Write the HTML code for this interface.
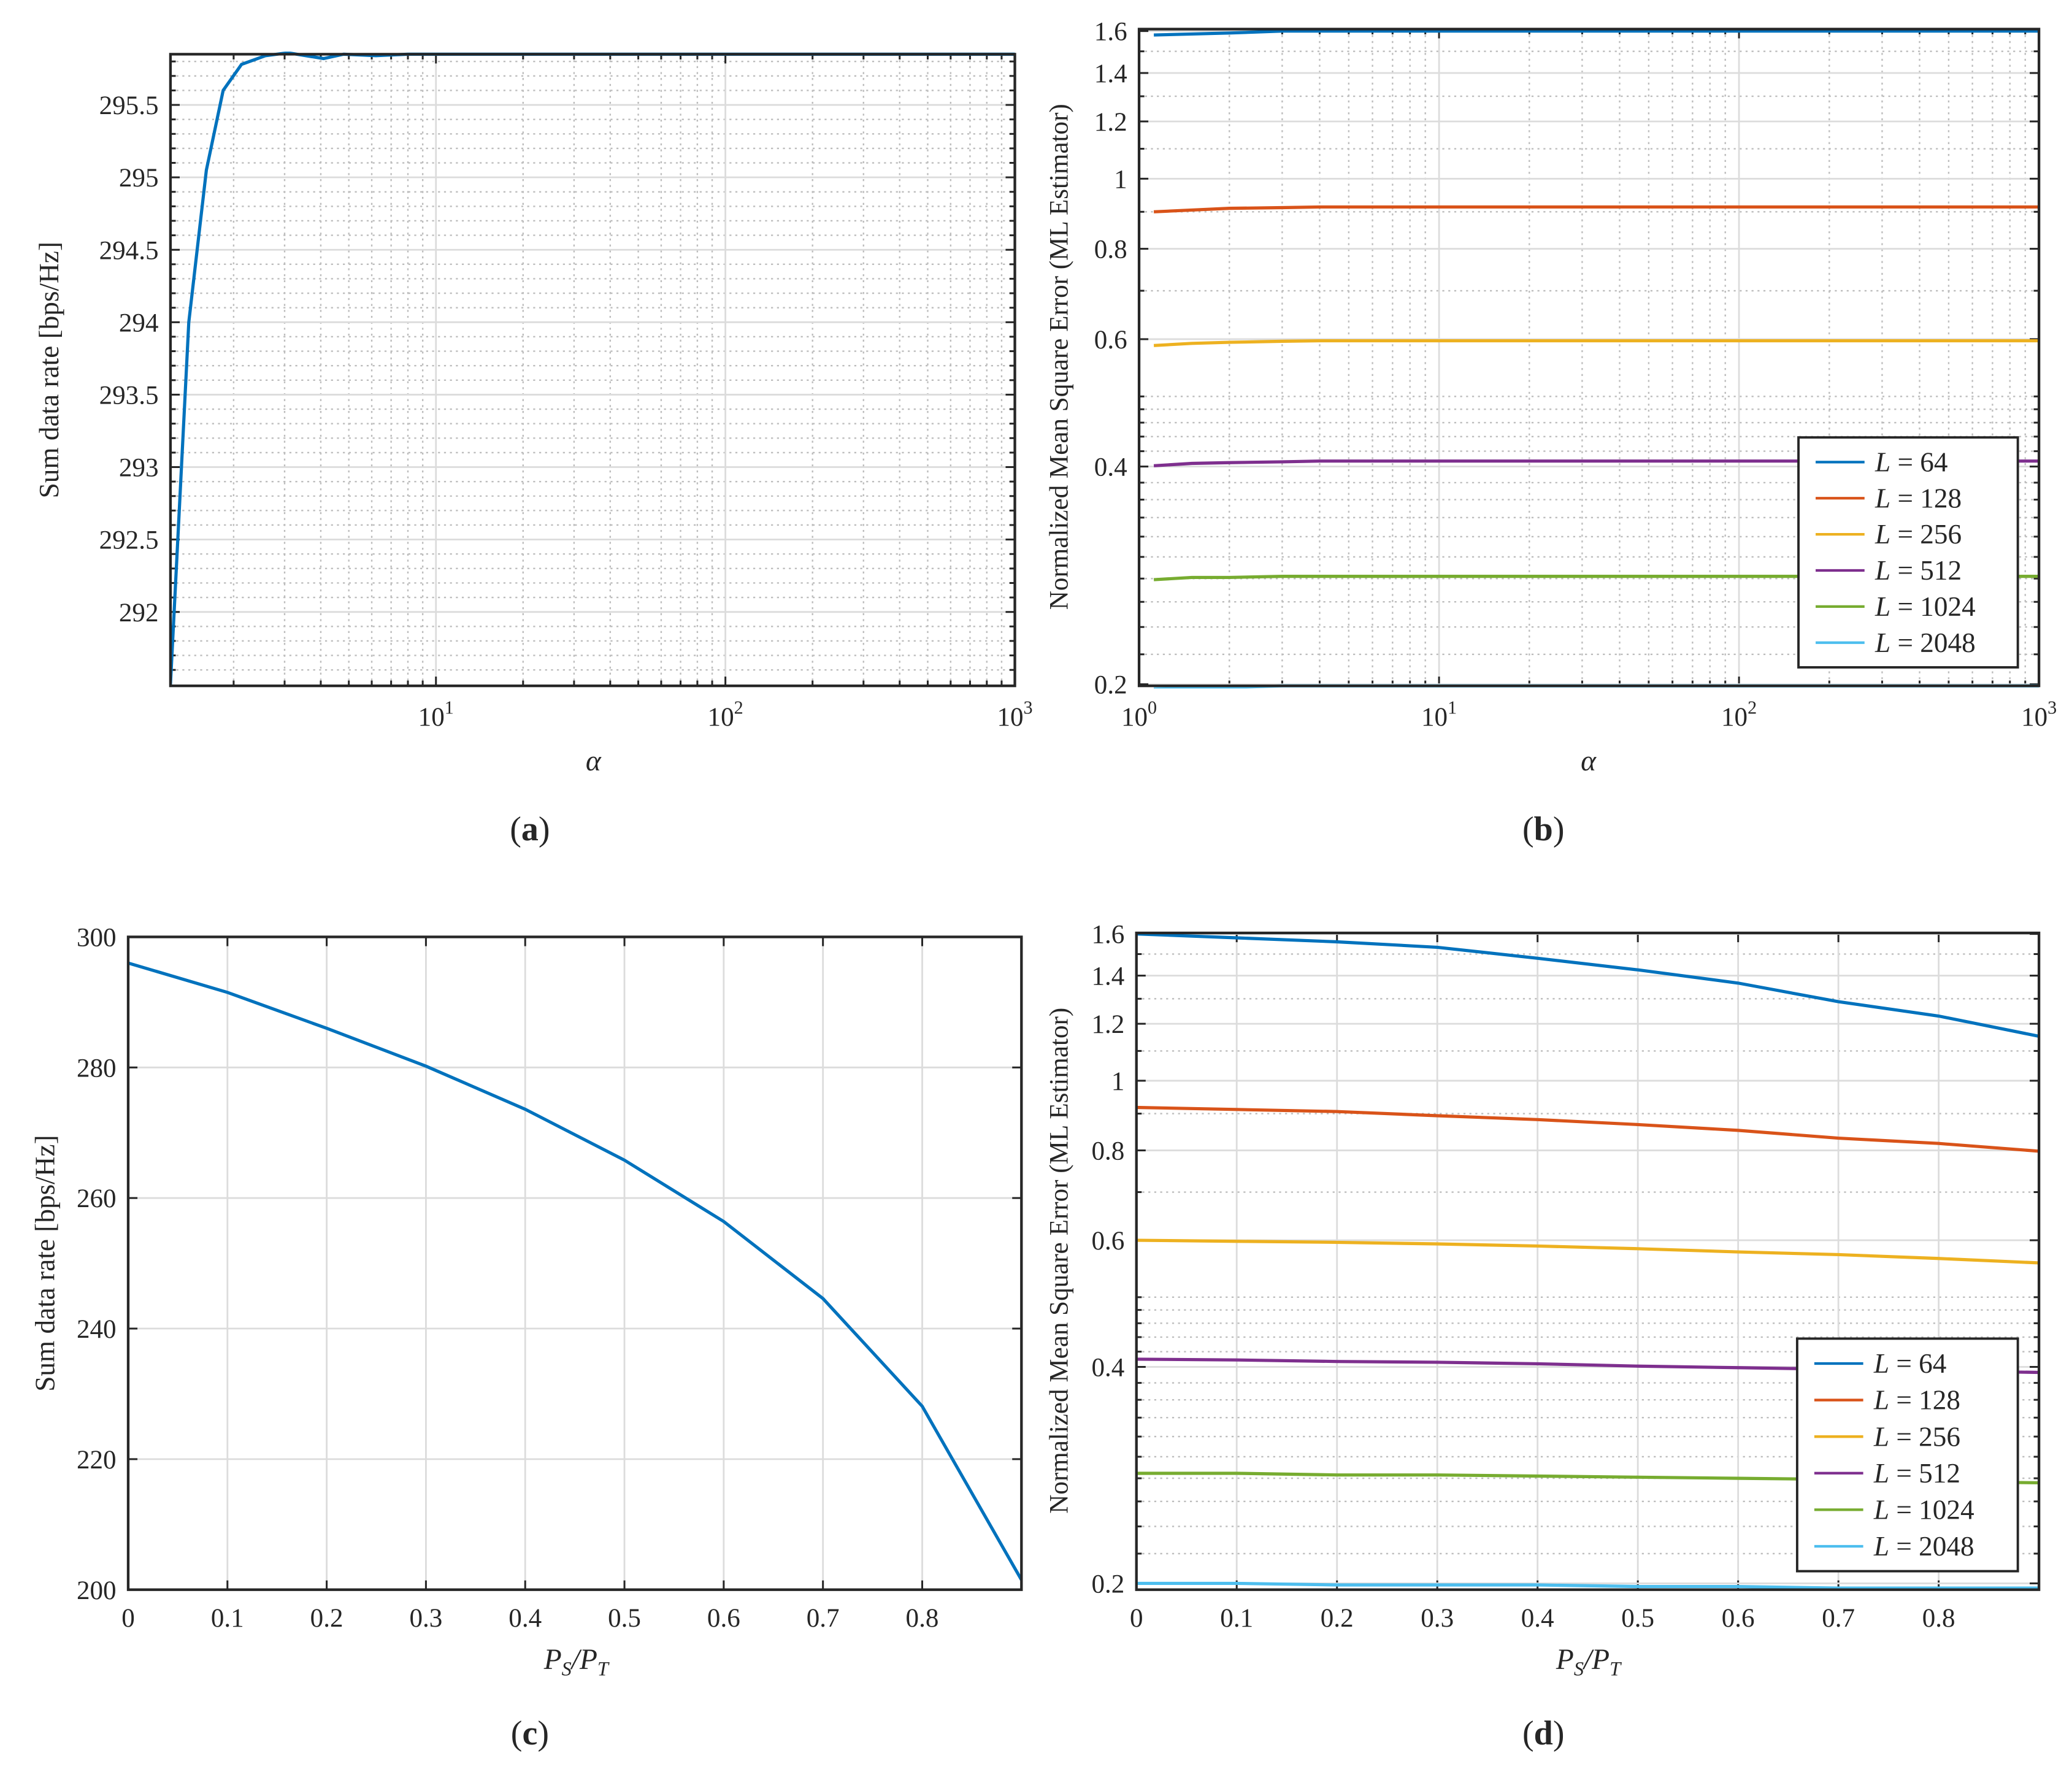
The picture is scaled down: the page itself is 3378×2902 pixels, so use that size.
<!DOCTYPE html>
<html><head><meta charset="utf-8"><style>
html,body{margin:0;padding:0;background:#fff}
svg{display:block}
text{font-family:"Liberation Serif",serif;fill:#262626}
</style></head><body>
<svg id="fig" xmlns="http://www.w3.org/2000/svg" width="3378" height="2902" viewBox="0 0 1568 1347"></svg>
<script>
// ---- data ----
const aAlpha=[1.21,1.40,1.61,1.84,2.13,2.58,3.08,4.09,4.8,6.2,8,10,20,50,100,1000];
const aRate=[291.5,294.0,295.05,295.6,295.78,295.84,295.86,295.82,295.85,295.84,295.85,295.85,295.85,295.85,295.85,295.85];
const bAlpha=[1.12,1.5,2,3,4,10,100,1000];
const bL64=[1.58,1.585,1.59,1.6,1.6,1.6,1.6,1.6];
const bL128=[0.9,0.905,0.91,0.912,0.914,0.914,0.914,0.914];
const bL256=[0.588,0.592,0.594,0.596,0.597,0.597,0.597,0.597];
const bL512=[0.401,0.404,0.405,0.406,0.407,0.407,0.407,0.407];
const bL1024=[0.279,0.281,0.281,0.282,0.282,0.282,0.282,0.282];
const bL2048=[0.197,0.198,0.198,0.199,0.199,0.199,0.199,0.199];
const psr=[0,0.1,0.2,0.3,0.4,0.5,0.6,0.7,0.8,0.9];
const cRate=[296,291.5,286,280.2,273.6,265.8,256.4,244.6,228.1,201.5];
const dL64=[1.6,1.58,1.56,1.533,1.48,1.426,1.367,1.288,1.23,1.153];
const dL128=[0.918,0.912,0.906,0.894,0.883,0.869,0.853,0.832,0.818,0.798];
const dL256=[0.6,0.598,0.596,0.593,0.589,0.584,0.578,0.573,0.566,0.558];
const dL512=[0.41,0.409,0.407,0.406,0.404,0.401,0.399,0.397,0.395,0.393];
const dL1024=[0.2845,0.2845,0.283,0.283,0.282,0.281,0.28,0.279,0.277,0.276];
const dL2048=[0.2,0.2,0.199,0.199,0.199,0.198,0.198,0.197,0.197,0.197];
const legendLabels=["64","128","256","512","1024","2048"];
const colors=["#0072BD","#D95319","#EDB120","#7E2F8E","#77AC30","#4DBEEE"];
const NS="http://www.w3.org/2000/svg";
const svg=document.getElementById('fig');
const TF=20;
function el(tag,attrs,parent){const e=document.createElementNS(NS,tag);for(const k in attrs)e.setAttribute(k,attrs[k]);(parent||svg).appendChild(e);return e;}
function txt(s,x,y,size,anchor,parent,extra){const t=el('text',Object.assign({x:x,y:y,'font-size':size,'text-anchor':anchor||'middle'},extra||{}),parent);t.textContent=s;return t;}

function panel(name){
  const g=el('g',{});
  
  
  return g;
}
function linScale(d0,d1,r0,r1){return v=>r0+(v-d0)/(d1-d0)*(r1-r0);}
function logScale(d0,d1,r0,r1){return v=>r0+(Math.log10(v)-Math.log10(d0))/(Math.log10(d1)-Math.log10(d0))*(r1-r0);}
function hgrid(g,y,L,R,minor){el('line',{x1:L,x2:R,y1:y,y2:y,stroke:minor?'#bdbdbd':'#dcdcdc','stroke-width':minor?1.1:1.3,'stroke-dasharray':minor?'1.5 3':''},g);}
function vgrid(g,x,T,B,minor){el('line',{x1:x,x2:x,y1:T,y2:B,stroke:minor?'#bdbdbd':'#dcdcdc','stroke-width':minor?1.1:1.3,'stroke-dasharray':minor?'1.5 3':''},g);}
function frame(g,L,T,R,B){el('rect',{x:L,y:T,width:R-L,height:B-T,fill:'none',stroke:'#262626','stroke-width':2},g);}
function ytick(g,y,L,R,len){el('line',{x1:L,x2:L+len,y1:y,y2:y,stroke:'#262626','stroke-width':1.4},g);el('line',{x1:R,x2:R-len,y1:y,y2:y,stroke:'#262626','stroke-width':1.4},g);}
function xtick(g,x,T,B,len){el('line',{x1:x,x2:x,y1:B,y2:B-len,stroke:'#262626','stroke-width':1.4},g);el('line',{x1:x,x2:x,y1:T,y2:T+len,stroke:'#262626','stroke-width':1.4},g);}
function series(g,xs,ys,sx,sy,color,name,L,T,R,B){
  const pts=xs.map((x,i)=>sx(x).toFixed(2)+','+sy(ys[i]).toFixed(2)).join(' ');
  const cp=el('clipPath',{id:'c'+name},g);el('rect',{x:L,y:T-2,width:R-L,height:B-T+4},cp);
  const p=el('polyline',{points:pts,fill:'none',stroke:color,'stroke-width':2.4,'clip-path':'url(#c'+name+')'},g);
  
  
}
function logXaxis(g,L,T,R,B,sx,d0){
  for(let dec=0;dec<3;dec++)for(let m=2;m<=9;m++){const v=m*Math.pow(10,dec);if(v<d0)continue;const x=sx(v);vgrid(g,x,T,B,true);xtick(g,x,T,B,4);}
  [1,10,100,1000].forEach((v,i)=>{if(v<d0)return;const x=sx(v);vgrid(g,x,T,B,false);xtick(g,x,T,B,7);
    const t=el('text',{x:x,y:B+30,'font-size':TF,'text-anchor':'middle'},g);
    const a=el('tspan',{},t);a.textContent='10';const b=el('tspan',{dy:-9,'font-size':14},t);b.textContent=String(i);});
}
function caption(s,x,y){const t=el('text',{x:x,y:y,'font-size':26,'text-anchor':'middle'});
  const a=el('tspan',{},t);a.textContent='(';const b=el('tspan',{'font-weight':'bold'},t);b.textContent=s;const c=el('tspan',{},t);c.textContent=')';
  }
function legend(g,x,y,w,h,name){
  const lg=el('g',{},g);
  
  
  el('rect',{x:x,y:y,width:w,height:h,fill:'#fff',stroke:'#262626','stroke-width':1.8},lg);
  const step=(h-10)/6;
  legendLabels.forEach((l,i)=>{
    const cy=y+5+step*(i+0.5);
    el('line',{x1:x+13,x2:x+50,y1:cy,y2:cy,stroke:colors[i],'stroke-width':2},lg);
    const t=el('text',{x:x+58,y:cy+7,'font-size':21,'text-anchor':'start'},lg);
    const a=el('tspan',{'font-style':'italic'},t);a.textContent='L';const b=el('tspan',{},t);b.textContent=' = '+l;
    
  });
}
function logMinorY(g,sy,L,R){
  for(let k=22;k<160;k+=2){const v=k/100;
    if(k>100&&k%10!==0)continue;
    if(k<100&&k>50&&k%5!==0)continue;
    if(k%20===0)continue;
    const y=sy(v);hgrid(g,y,L,R,true);ytick(g,y,L,R,4);}
}

// ---- Panel (a) ----
(function(){
  const L=129,T=41,R=768,B=519;const g=panel('panel-a-sum-rate-vs-alpha');
  const d0=1.21;const sx=logScale(d0,1000,L,R);const sy=linScale(291.49,295.85,B,T);
  for(let k=2915;k<=2958;k++){if(k%5===0)continue;const y=sy(k/10);hgrid(g,y,L,R,true);ytick(g,y,L,R,4);}
  logXaxis(g,L,T,R,B,sx,d0);
  [292,292.5,293,293.5,294,294.5,295,295.5].forEach(v=>{const y=sy(v);hgrid(g,y,L,R,false);ytick(g,y,L,R,7);txt(String(v),L-9,y+7,TF,'end',g);});
  series(g,aAlpha,aRate,sx,sy,colors[0],'sum-rate-line',L,T,R,B);
  frame(g,L,T,R,B);
  txt('α',449,583,22,'middle',g,{'font-style':'italic'});
  txt('Sum data rate [bps/Hz]',0,0,21,'middle',g,{transform:'translate(44,280) rotate(-90)'});
})();
caption('a',401,636);

// ---- Panel (b) ----
(function(){
  const L=862,T=22,R=1543,B=519;const g=panel('panel-b-nmse-vs-alpha');
  const sx=logScale(1,1000,L,R);const sy=logScale(0.199,1.61,B,T);
  logMinorY(g,sy,L,R);
  logXaxis(g,L,T,R,B,sx,1);
  [0.2,0.4,0.6,0.8,1,1.2,1.4,1.6].forEach(v=>{const y=sy(v);hgrid(g,y,L,R,false);ytick(g,y,L,R,7);txt(String(v),L-9,y+7,TF,'end',g);});
  [bL64,bL128,bL256,bL512,bL1024,bL2048].forEach((s,i)=>series(g,bAlpha,s,sx,sy,colors[i],'b-line-L'+legendLabels[i],L,T,R,B));
  frame(g,L,T,R,B);
  legend(g,1361,331,166,174,'legend-b');
  txt('α',1202,583,22,'middle',g,{'font-style':'italic'});
  txt('Normalized Mean Square Error (ML Estimator)',0,0,20,'middle',g,{transform:'translate(808,270) rotate(-90)'});
})();
caption('b',1168,636);

// ---- Panel (c) ----
(function(){
  const L=97,T=709,R=773,B=1203;const g=panel('panel-c-sum-rate-vs-power');
  const sx=linScale(0,0.9,L,R);const sy=linScale(200,300,B,T);
  [0,0.1,0.2,0.3,0.4,0.5,0.6,0.7,0.8].forEach(v=>{const x=sx(v);vgrid(g,x,T,B,false);xtick(g,x,T,B,7);txt(String(v),x,B+28,TF,'middle',g);});
  [200,220,240,260,280,300].forEach(v=>{const y=sy(v);hgrid(g,y,L,R,false);ytick(g,y,L,R,7);txt(String(v),L-9,y+7,TF,'end',g);});
  series(g,psr,cRate,sx,sy,colors[0],'sum-rate-vs-ps-line',L,T,R,B);
  frame(g,L,T,R,B);
  const t=el('text',{x:436,y:1263,'font-size':22,'text-anchor':'middle','font-style':'italic'},g);t.textContent='P';
  let s=el('tspan',{dy:5,'font-size':15},t);s.textContent='S';s=el('tspan',{dy:-5},t);s.textContent='/P';s=el('tspan',{dy:5,'font-size':15},t);s.textContent='T';
  txt('Sum data rate [bps/Hz]',0,0,21,'middle',g,{transform:'translate(41,956) rotate(-90)'});
})();
caption('c',401,1320);

// ---- Panel (d) ----
(function(){
  const L=860,T=706,R=1543,B=1203;const g=panel('panel-d-nmse-vs-power');
  const sx=linScale(0,0.9,L,R);const sy=logScale(0.196,1.605,B,T);
  logMinorY(g,sy,L,R);
  [0,0.1,0.2,0.3,0.4,0.5,0.6,0.7,0.8].forEach(v=>{const x=sx(v);vgrid(g,x,T,B,false);xtick(g,x,T,B,7);txt(String(v),x,B+28,TF,'middle',g);});
  [0.2,0.4,0.6,0.8,1,1.2,1.4,1.6].forEach(v=>{const y=sy(v);hgrid(g,y,L,R,false);ytick(g,y,L,R,7);txt(String(v),L-9,y+7,TF,'end',g);});
  [dL64,dL128,dL256,dL512,dL1024,dL2048].forEach((s,i)=>series(g,psr,s,sx,sy,colors[i],'d-line-L'+legendLabels[i],L,T,R,B));
  frame(g,L,T,R,B);
  legend(g,1360,1013,167,176,'legend-d');
  const t=el('text',{x:1202,y:1263,'font-size':22,'text-anchor':'middle','font-style':'italic'},g);t.textContent='P';
  let s=el('tspan',{dy:5,'font-size':15},t);s.textContent='S';s=el('tspan',{dy:-5},t);s.textContent='/P';s=el('tspan',{dy:5,'font-size':15},t);s.textContent='T';
  txt('Normalized Mean Square Error (ML Estimator)',0,0,20,'middle',g,{transform:'translate(808,954) rotate(-90)'});
})();
caption('d',1168,1320);
</script>
</body></html>
